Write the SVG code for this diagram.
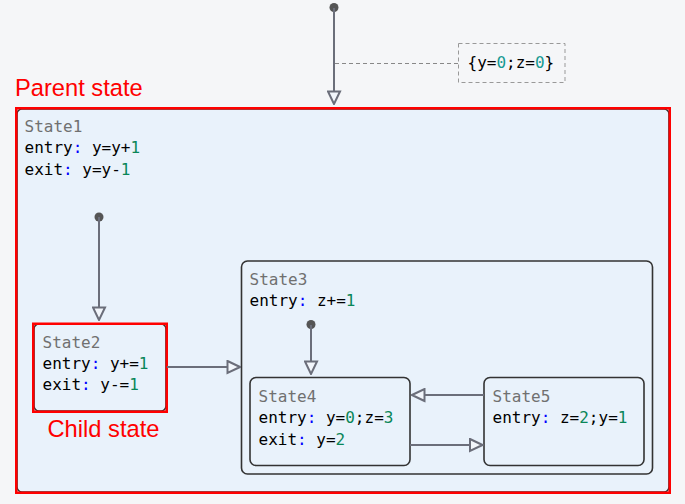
<svg xmlns="http://www.w3.org/2000/svg" width="685" height="504" viewBox="0 0 685 504">
<style>
.t{font-family:"DejaVu Sans Mono","Liberation Mono",monospace;font-size:16px;fill:#000}
.nm{fill:#707070}
.c{fill:#0000ff}
.n{fill:#098658}
.nz{fill:#169a92}
.lbl{font-family:"Liberation Sans",Arial,sans-serif;font-size:23.7px;fill:#ff0000}
.st{fill:#e9f2fb;stroke:#333;stroke-width:1.6}
.red{fill:none;stroke:#ff0000;stroke-width:2.5}
.ln{fill:none;stroke:#6b6e7a;stroke-width:2}
.dot{fill:#555}
</style>
<defs>
<marker id="ah" viewBox="0 0 15 15" refX="14" refY="7.5" markerWidth="15" markerHeight="15" markerUnits="userSpaceOnUse" orient="auto">
<path d="M1.5,1.5 L14,7.5 L1.5,13.5 Z" fill="#f2f6fb" stroke="#6b6e7a" stroke-width="2"/>
</marker>
</defs>
<rect width="685" height="504" fill="#f5f6f8"/>

<g id="note">
<rect x="458.5" y="43.5" width="106.5" height="39" fill="none" stroke="#999" stroke-width="1" stroke-dasharray="4,3"/>
<text class="t" x="467.5" y="68">{y=<tspan class="nz">0</tspan>;z=<tspan class="nz">0</tspan>}</text>
</g>

<text class="lbl" x="15" y="96">Parent state</text>

<g id="State1">
<rect class="st" x="17" y="109" width="652" height="383" rx="5" stroke="#999"/>
<rect class="red" x="16.25" y="108.25" width="653.5" height="384.5"/>
<text class="t" x="24.5" y="132"><tspan class="nm">State1</tspan></text>
<text class="t" x="24.5" y="153">entry<tspan class="c">:</tspan> y=y+<tspan class="n">1</tspan></text>
<text class="t" x="24.5" y="175">exit<tspan class="c">:</tspan> y=y-<tspan class="n">1</tspan></text>
</g>

<g id="State2">
<rect class="st" x="34" y="324" width="132" height="87" rx="5" stroke="#888"/>
<rect class="red" x="33.25" y="323.75" width="133.5" height="88"/>
<text class="t" x="42.5" y="348"><tspan class="nm">State2</tspan></text>
<text class="t" x="42.5" y="369">entry<tspan class="c">:</tspan> y+=<tspan class="n">1</tspan></text>
<text class="t" x="42.5" y="390">exit<tspan class="c">:</tspan> y-=<tspan class="n">1</tspan></text>
</g>
<text class="lbl" x="47.5" y="437">Child state</text>

<g id="State3">
<rect class="st" x="241.5" y="261" width="411" height="213" rx="6"/>
<text class="t" x="249.5" y="285"><tspan class="nm">State3</tspan></text>
<text class="t" x="249.5" y="306">entry<tspan class="c">:</tspan> z+=<tspan class="n">1</tspan></text>
</g>

<g id="State4">
<rect class="st" x="250" y="377.5" width="160" height="88" rx="6"/>
<text class="t" x="258.5" y="402"><tspan class="nm">State4</tspan></text>
<text class="t" x="258.5" y="423">entry<tspan class="c">:</tspan> y=<tspan class="n">0</tspan>;z=<tspan class="n">3</tspan></text>
<text class="t" x="258.5" y="445">exit<tspan class="c">:</tspan> y=<tspan class="n">2</tspan></text>
</g>

<g id="State5">
<rect class="st" x="484" y="377.5" width="160" height="88" rx="6"/>
<text class="t" x="492.5" y="402"><tspan class="nm">State5</tspan></text>
<text class="t" x="492.5" y="423">entry<tspan class="c">:</tspan> z=<tspan class="n">2</tspan>;y=<tspan class="n">1</tspan></text>
</g>

<g id="connectors">
<circle class="dot" cx="334" cy="7.5" r="4.5"/>
<line class="ln" x1="334" y1="8" x2="334" y2="104" marker-end="url(#ah)"/>
<line x1="335" y1="63.5" x2="458" y2="63.5" stroke="#888" stroke-width="1" stroke-dasharray="4,3"/>
<circle class="dot" cx="99" cy="217" r="4.5"/>
<line class="ln" x1="99" y1="217" x2="99" y2="320" marker-end="url(#ah)"/>
<line class="ln" x1="167" y1="367" x2="240" y2="367" marker-end="url(#ah)"/>
<circle class="dot" cx="311" cy="324.5" r="4.5"/>
<line class="ln" x1="311" y1="325" x2="311" y2="374" marker-end="url(#ah)"/>
<line class="ln" x1="484" y1="395" x2="412" y2="395" marker-end="url(#ah)"/>
<line class="ln" x1="410" y1="445" x2="482.5" y2="445" marker-end="url(#ah)"/>
</g>
</svg>
